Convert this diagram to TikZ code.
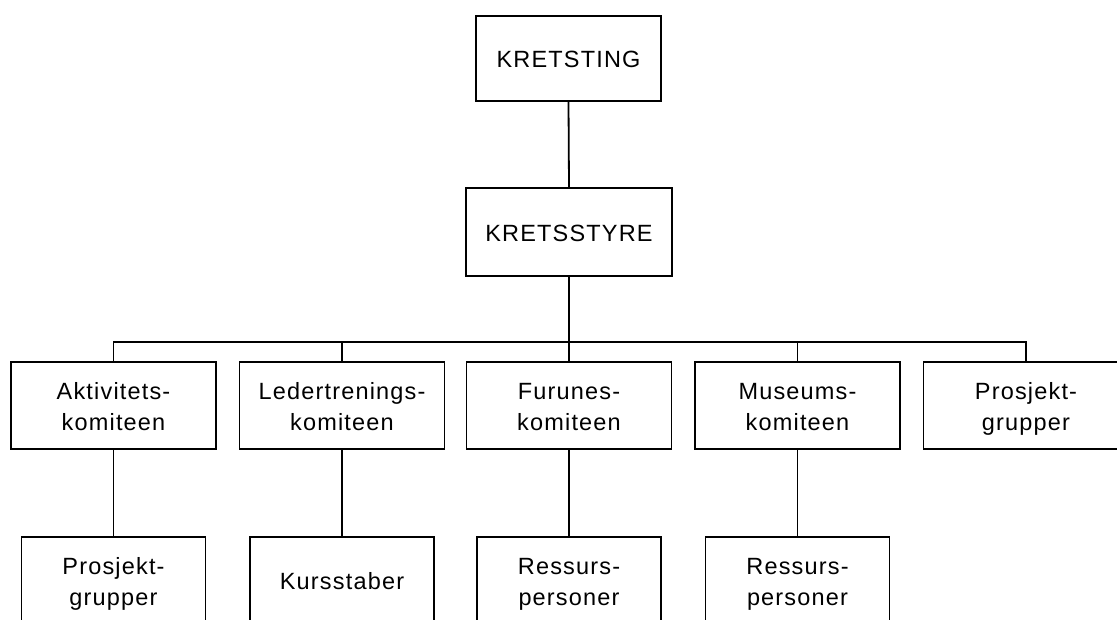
\documentclass[tikz,border=0pt]{standalone}
\usepackage{fontspec}
\setmainfont{Liberation Sans}[LetterSpace=5]
\newcommand\boxtext[1]{\raisebox{-3pt}[\height][\depth]{\begin{tabular}{@{}c@{}}#1\end{tabular}}}
\begin{document}
\begin{tikzpicture}[x=1pt,y=-1pt,
  box/.style={draw, line width=1.8pt, minimum width=205pt, minimum height=87pt,
    inner sep=0pt, align=center, font=\fontsize{23.5}{31}\selectfont},
  subbox/.style={box, minimum width=184pt},
  link/.style={line width=1.8pt}]
\useasboundingbox (0,0) rectangle (1117,619);
\clip (0,0) rectangle (1117,619);
\fill[white] (0,0) rectangle (1117,619);
\node[box, minimum width=185pt, minimum height=85pt] (ting) at (568.5,58.5) {\boxtext{KRETSTING}};
\node[box, minimum width=206pt, minimum height=88pt] (styre) at (569,232) {\boxtext{KRETSSTYRE}};
\node[box] (akt) at (113.5,405.5) {\boxtext{Aktivitets-\\komiteen}};
\node[box] (led) at (342,405.5) {\boxtext{Ledertrenings-\\komiteen}};
\node[box] (fur) at (569,405.5) {\boxtext{Furunes-\\komiteen}};
\node[box] (mus) at (797.5,405.5) {\boxtext{Museums-\\komiteen}};
\node[box] (pro) at (1026,405.5) {\boxtext{Prosjekt-\\grupper}};
\node[subbox] (akts) at (113.5,580.5) {\boxtext{Prosjekt-\\grupper}};
\node[subbox] (leds) at (342,580.5) {\boxtext{Kursstaber}};
\node[subbox] (furs) at (569,580.5) {\boxtext{Ressurs-\\personer}};
\node[subbox] (muss) at (797.5,580.5) {\boxtext{Ressurs-\\personer}};
\coordinate (busl) at (0,342);
\draw[link] (ting.south) -- (styre.north);
\draw[link] (styre.south) -- (styre.south |- busl);
\draw[link] (akt.north) -- (akt.north |- busl) -- (pro.north |- busl) -- (pro.north);
\foreach \n in {led,fur,mus}{\draw[link] (\n.north |- busl) -- (\n.north);}
\draw[link] (akt.south) -- (akts.north);
\draw[link] (led.south) -- (leds.north);
\draw[link] (fur.south) -- (furs.north);
\draw[link] (mus.south) -- (muss.north);
\end{tikzpicture}
\end{document}
